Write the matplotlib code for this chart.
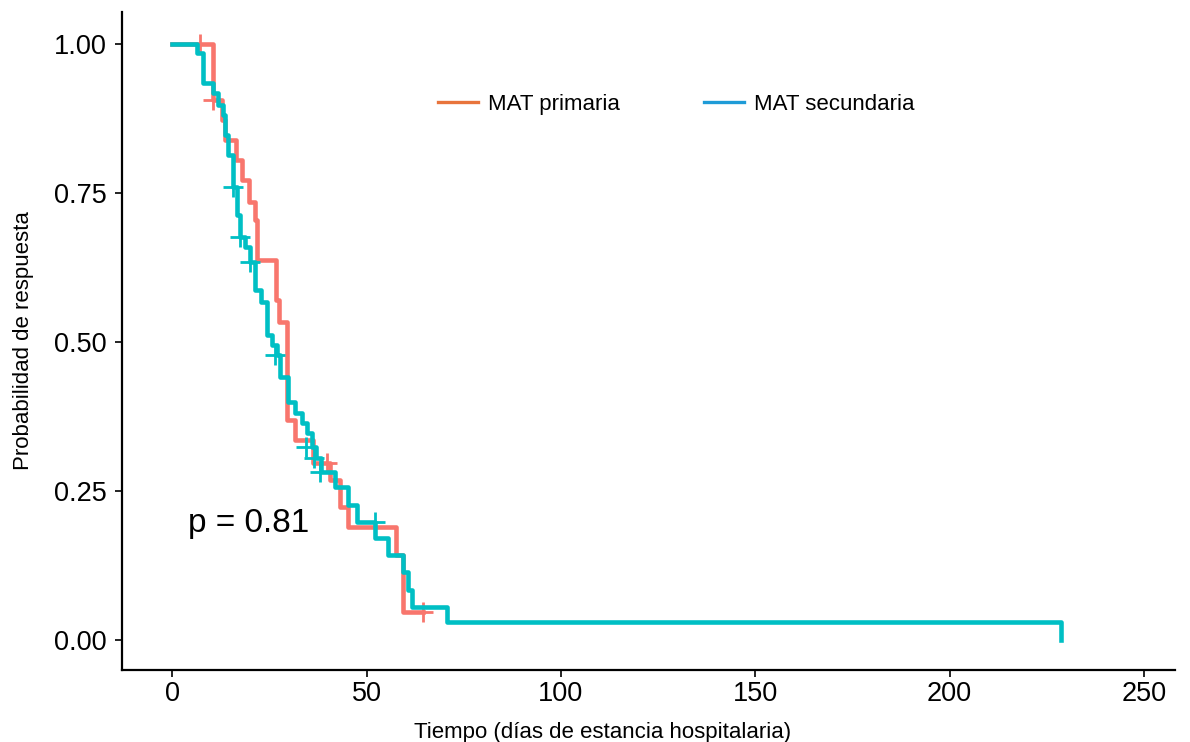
import matplotlib
matplotlib.use("Agg")
import matplotlib.pyplot as plt
from matplotlib.lines import Line2D

plt.rcParams['font.family'] = ['Liberation Sans', 'DejaVu Sans']

# ---- data ----
times_pri = [0, 10.5, 12.9, 13.6, 16.5, 18.0, 19.8, 21.4, 21.9, 26.8, 27.6, 29.6,
             31.7, 36.3, 40.7, 43.3, 45.3, 57.6, 59.3, 64.6]
surv_pri = [1.0, 0.906, 0.872, 0.839, 0.805, 0.772, 0.735, 0.705, 0.638, 0.570, 0.534, 0.369,
            0.336, 0.297, 0.268, 0.223, 0.190, 0.143, 0.047, 0.047]
cens_pri_t = [7.2, 10.5, 39.9, 64.6]
cens_pri_s = [1.0, 0.906, 0.297, 0.047]

times_sec = [0, 6.5, 8.0, 10.6, 11.8, 13.1, 13.6, 14.4, 15.7, 16.7, 17.5, 18.8, 20.1,
             21.4, 22.9, 24.5, 25.7, 27.0, 27.8, 29.9, 31.7, 33.5, 34.8, 36.0, 37.1,
             38.4, 42.0, 45.3, 47.6, 52.3, 55.6, 59.3, 60.8, 61.8, 70.8, 228.6]
surv_sec = [1.0, 0.985, 0.935, 0.918, 0.898, 0.881, 0.847, 0.814, 0.760, 0.713, 0.676,
            0.659, 0.634, 0.587, 0.567, 0.512, 0.495, 0.478, 0.441, 0.399, 0.381, 0.364,
            0.347, 0.324, 0.305, 0.282, 0.257, 0.227, 0.198, 0.171, 0.143, 0.114, 0.084,
            0.055, 0.030, 0.0]
cens_sec_t = [15.7, 17.5, 20.1, 26.5, 34.5, 36.5, 38.0, 52.3]
cens_sec_s = [0.760, 0.676, 0.634, 0.478, 0.324, 0.305, 0.282, 0.198]

labels = ["MAT primaria", "MAT secundaria"]
xticks = [0, 50, 100, 150, 200, 250]
yticks = [0.00, 0.25, 0.50, 0.75, 1.00]
pval_text = "p = 0.81"

col_pri = "#F8766D"
col_sec = "#00BFC4"
leg_pri = "#E8743C"
leg_sec = "#1E9BD7"

fig = plt.figure(figsize=(11.9, 7.42), dpi=100)
ax = fig.add_axes([0.1025, 0.097, 0.885, 0.887])

ax.step(times_pri, surv_pri, where='post', color=col_pri, lw=3.3, zorder=2)
ax.plot(cens_pri_t, cens_pri_s, ls='none', marker='+', ms=14, mew=2.0, color=col_pri, zorder=2)
ax.step(times_sec, surv_sec, where='post', color=col_sec, lw=3.3, zorder=3)
ax.plot(cens_sec_t, cens_sec_s, ls='none', marker='+', ms=14, mew=2.0, color=col_sec, zorder=3)

ax.text(4.1, 0.196, pval_text, fontsize=24, ha='left', va='center')

ax.set_xlim(-12.9, 258)
ax.set_ylim(-0.05, 1.054)
ax.set_xticks(xticks)
ax.set_yticks(yticks)
ax.set_yticklabels([f"{v:.2f}" for v in yticks])
ax.tick_params(axis='both', labelsize=19.5, length=5, width=1.2, color='black')
ax.tick_params(axis='x', pad=3)
ax.tick_params(axis='y', pad=6)

for s in ['top', 'right']:
    ax.spines[s].set_visible(False)
for s in ['left', 'bottom']:
    ax.spines[s].set_linewidth(1.6)

ax.set_xlabel("Tiempo (días de estancia hospitalaria)", fontsize=16)
ax.xaxis.set_label_coords(0.456, -0.079)
ax.set_ylabel("Probabilidad de respuesta", fontsize=16, labelpad=14)

handles = [Line2D([0], [0], color=leg_pri, lw=2.4), Line2D([0], [0], color=leg_sec, lw=2.4)]
ax.legend(handles, labels, loc='center', bbox_to_anchor=(0.526, 0.86), ncol=2,
          frameon=False, fontsize=16, handlelength=1.8, handletextpad=0.45,
          columnspacing=3.8, borderpad=0)

fig.savefig("out.png", dpi=100)
